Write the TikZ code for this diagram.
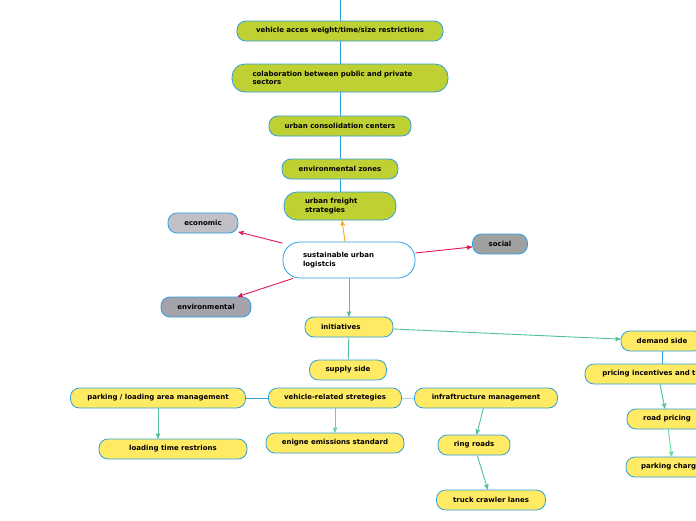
\documentclass[tikz,border=0pt]{standalone}
\usepackage{fontspec}
\setsansfont{DejaVu Sans}
\usepackage{tikz}
\usetikzlibrary{arrows,positioning,calc}
\definecolor{mmbleu}{RGB}{45,158,222}
\definecolor{mmbleuclair}{RGB}{160,208,238}
\definecolor{mmvert}{RGB}{191,208,50}
\definecolor{mmjaune}{RGB}{255,234,100}
\definecolor{mmgrisclair}{RGB}{193,192,198}
\definecolor{mmgris}{RGB}{160,160,160}
\definecolor{mmgrisbleu}{RGB}{164,163,172}
\definecolor{mmrouge}{RGB}{226,22,82}
\definecolor{mmsarcelle}{RGB}{82,190,160}
\definecolor{mmmenthe}{RGB}{96,216,150}
\definecolor{mmorange}{RGB}{250,170,20}
\tikzset{
  mmnode/.style = {align=center, inner sep=2pt, text centered,
    font=\sffamily\bfseries\fontsize{7}{8.5}\selectfont, draw=mmbleu,
    line width=0.8pt, minimum height=20pt, rounded corners=9pt},
  mm_v/.style = {mmnode, fill=mmvert},% carte, noeud vert
  mm_j/.style = {mmnode, fill=mmjaune},% carte, noeud jaune
  mm_c/.style = {mmnode, fill=white, minimum height=36pt,
    rounded corners=17pt},% carte, noeud central
  mm_g/.style = {mmnode, fill=#1},% carte, noeud gris
  lien/.style = {line width=0.9pt}
}

\begin{document}
\begin{tikzpicture}[x=1pt,y=-1pt,>=stealth']
\useasboundingbox (0,0) rectangle (696,520);
\coordinate (haut) at (340,0);
% branche strategies
\node [mm_v, minimum width=206pt] (vaw) at (340,31) {vehicle acces weight/time/size restrictions};
\node [mm_v, minimum width=216pt, minimum height=28pt, rounded corners=13pt,
  text width=175pt, align=left] (colab) at (340,78) {colaboration between public and private\\sectors};
\node [mm_v, minimum width=142pt] (ucc) at (340,126) {urban consolidation centers};
\node [mm_v, minimum width=116pt] (envz) at (340,169) {environmental zones};
\node [mm_v, minimum width=112pt, minimum height=28pt, rounded corners=13pt,
  text width=70pt, align=left] (ufs) at (340,206) {urban freight\\strategies};
% centre et piliers
\node [mm_c, minimum width=132pt, text width=92pt, align=left] (slu) at (349,260) {sustainable urban\\logistcis};
\node [mm_g=mmgrisclair, minimum width=70pt] (eco) at (203,223) {economic};
\node [mm_g=mmgris, minimum width=55pt] (soc) at (500,244) {social};
\node [mm_g=mmgrisbleu, minimum width=90pt] (env) at (206,307) {environmental};
% initiatives
\node [mm_j, minimum width=88pt, text width=56pt, align=left] (init) at (349,327) {initiatives};
\node [mm_j, minimum width=77pt] (sup) at (348,370) {supply side};
\node [mm_j, minimum width=175pt] (park) at (158,398) {parking / loading area management};
\node [mm_j, minimum width=133pt] (vrs) at (335,398) {vehicle-related stretegies};
\node [mm_j, minimum width=143pt] (infra) at (486,398) {infraftructure management};
\node [mm_j, minimum width=148pt] (ltr) at (173,449) {loading time restrions};
\node [mm_j, minimum width=138pt] (ees) at (335,443) {enigne emissions standard};
\node [mm_j, minimum width=72pt] (ring) at (474,445) {ring roads};
\node [mm_j, minimum width=109pt] (tcl) at (491,500) {truck crawler lanes};
\node [mm_j, minimum width=82pt] (dem) at (662,341) {demand side};
\node [mm_j, minimum width=146pt] (pit) at (658,374) {pricing incentives and taxes};
\node [mm_j, minimum width=80pt] (road) at (667,419) {road pricing};
\node [mm_j, minimum width=94pt] (pchg) at (673,467) {parking charges};

\draw [lien, mmbleu] (haut) -- (vaw) -- (colab) -- (ucc) -- (envz) -- (ufs);
\draw [lien, ->, mmorange] (slu.north -| 345,0) -- (ufs);
\draw [lien, ->, mmrouge] (slu) -- (eco);
\draw [lien, ->, mmrouge] (slu) -- (soc);
\draw [lien, ->, mmrouge] (slu) -- (env);
\draw [lien, ->, mmsarcelle] (slu) -- (init);
\draw [lien, ->, mmsarcelle] (init) -- (dem);
\draw [lien, mmsarcelle] (init) -- (sup);
\draw [lien, mmbleu] (park) -- (vrs);
\draw [lien, mmbleuclair] (vrs) -- (infra);
\draw [lien, ->, mmsarcelle] (park.south) -- (park.south |- ltr.north);
\draw [lien, ->, mmmenthe] (vrs) -- (ees);
\draw [lien, ->, mmsarcelle] (infra) -- (ring);
\draw [lien, ->, mmsarcelle] (ring) -- (tcl);
\draw [lien, mmbleu] (dem) -- (dem |- pit.north);
\draw [lien, ->, mmsarcelle] (pit) -- (road);
\draw [lien, ->, mmmenthe] (road) -- (pchg);
\end{tikzpicture}
\end{document}
